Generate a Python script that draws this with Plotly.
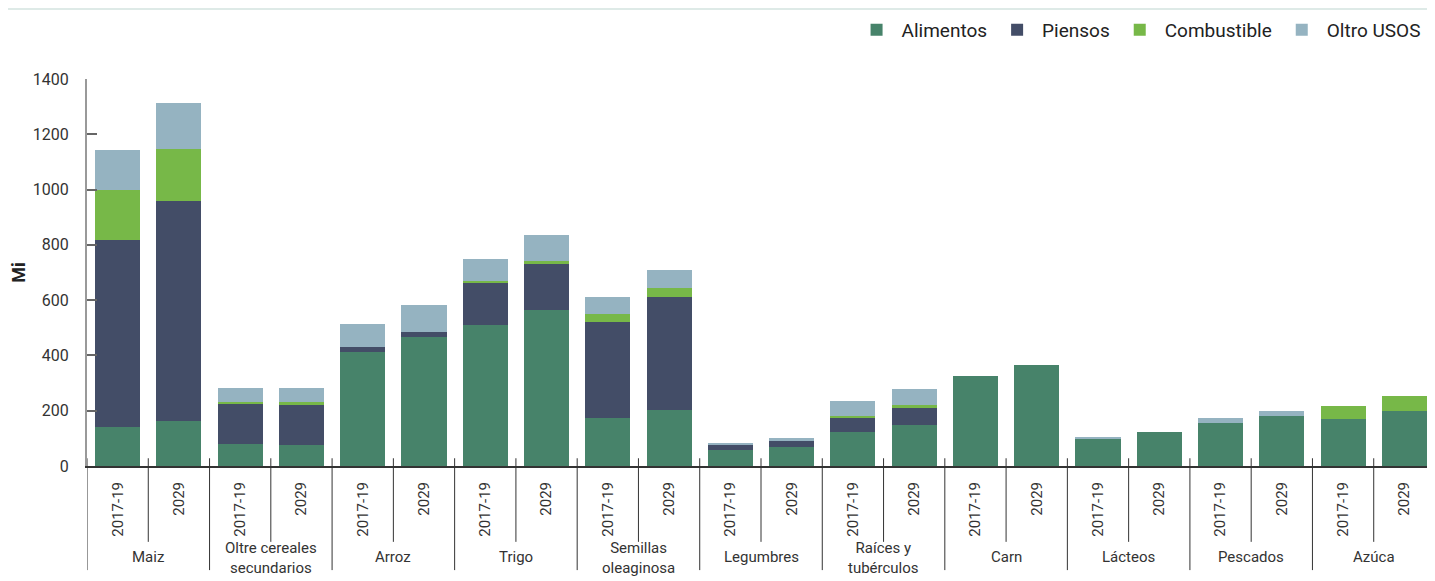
import plotly.graph_objects as go

categories = ["Maiz", "Oltre cereales<br>secundarios", "Arroz", "Trigo", "Semillas<br>oleaginosa",
              "Legumbres", "Raíces y<br>tubérculos", "Carn", "Lácteos", "Pescados", "Azúca"]
periods = ["2017-19", "2029"]

alimentos   = [142, 163, 80, 76, 412, 467, 510, 566, 174, 203, 58, 69, 123, 148, 326, 365, 101, 123, 156, 181, 170, 199]
piensos     = [676, 796, 145, 145, 18, 18, 152, 165, 347, 409, 18, 22, 54, 62, 0, 0, 0, 0, 0, 0, 0, 0]
combustible = [181, 188, 7, 11, 0, 0, 7, 11, 29, 33, 0, 0, 4, 11, 0, 0, 0, 0, 0, 0, 47, 54]
otros_usos  = [145, 166, 51, 51, 83, 98, 80, 94, 62, 65, 7, 11, 54, 58, 0, 0, 3, 0, 18, 18, 0, 0]

series = [
    ("Alimentos", alimentos, "#47836A"),
    ("Piensos", piensos, "#434D67"),
    ("Combustible", combustible, "#77B848"),
    ("Oltro USOS", otros_usos, "#95B3C1"),
]

n = len(categories) * len(periods)
xpos = list(range(n))
ticktext = [p for _ in categories for p in periods]

FONT = "Roboto"
fig = go.Figure()
for name, vals, color in series:
    fig.add_trace(go.Bar(x=xpos, y=vals, name=name, marker=dict(color=color, line=dict(width=0))))

shapes = []
# top thin line
shapes.append(dict(type="line", xref="paper", yref="paper", x0=-0.06, x1=1.0, y0=1.181, y1=1.181,
                   line=dict(color="#D3E3DF", width=1.5)))
# dividers below axis
for k in range(n + 1):
    xb = k - 0.5
    is_group = (k % 2 == 0)
    shapes.append(dict(type="line", xref="x", yref="paper", x0=xb, x1=xb,
                       y0=0.02, y1=-0.269 if is_group else -0.196,
                       line=dict(color="#333333", width=1)))

annotations = []
for g, cat in enumerate(categories):
    two_line = "<br>" in cat
    annotations.append(dict(x=2 * g + 0.5, xref="x", y=-0.1825 if two_line else -0.2067,
                            yref="paper", yanchor="top",
                            text=cat, showarrow=False, align="center",
                            font=dict(family=FONT, size=15, color="#333333")))

fig.update_layout(
    width=1427, height=573,
    margin=dict(l=79, r=0, t=71, b=115),
    barmode="stack", bargap=0.265,
    plot_bgcolor="white", paper_bgcolor="white",
    font=dict(family=FONT, color="#333333"),
    shapes=shapes, annotations=annotations,
    legend=dict(orientation="h", x=0.993, xanchor="right", y=1.127, yanchor="middle",
                font=dict(family=FONT, size=19, color="#222222"), traceorder="normal",
                itemwidth=40, bgcolor="rgba(0,0,0,0)"),
    showlegend=True,
)
fig.update_xaxes(range=[-0.5, n - 0.5], tickmode="array", tickvals=xpos, ticktext=ticktext,
                 tickangle=-90, ticks="", showgrid=False, zeroline=False, automargin=False,
                 showline=True, linecolor="#333333", linewidth=2,
                 tickfont=dict(family=FONT, size=15, color="#333333"), ticklabelstandoff=8)
fig.update_yaxes(range=[0, 1400], tickvals=[0, 200, 400, 600, 800, 1000, 1200, 1400],
                 ticks="inside", ticklen=10, tickcolor="#666666", tickwidth=1.5, automargin=False,
                 showgrid=False, zeroline=False, showline=True, linecolor="#999999", linewidth=2,
                 tickfont=dict(family=FONT, size=16, color="#333333"), ticklabelstandoff=13,
                 title=dict(text="<b>Mi</b>", font=dict(family=FONT, size=18, color="#222222"), standoff=4))

fig.write_html("out.html")
